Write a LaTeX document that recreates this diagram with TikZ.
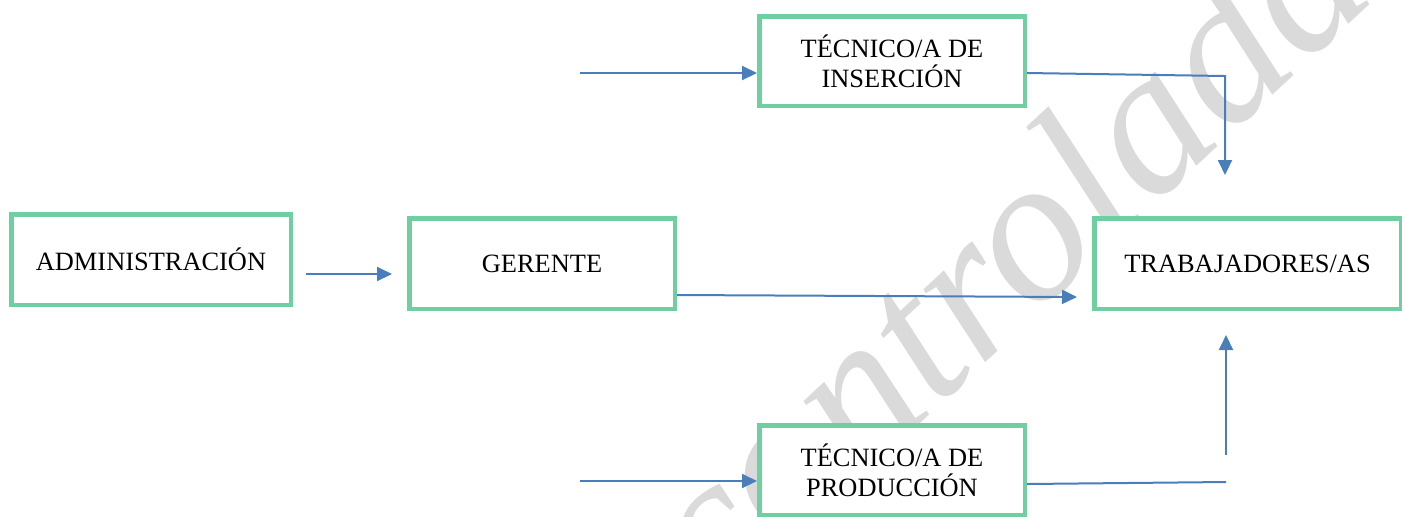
\documentclass[tikz,border=0pt]{standalone}
\usepackage{fontspec}
\setmainfont{Liberation Serif}
\usetikzlibrary{arrows.meta}
\definecolor{boxgreen}{RGB}{112,207,160}
\definecolor{flowblue}{RGB}{74,126,187}
\definecolor{markgray}{RGB}{218,218,218}

\begin{document}
\begin{tikzpicture}[x=0.5pt,y=-0.5pt,>={Triangle[length=7.5pt,width=7pt]},
                    box/.style={draw=boxgreen,line width=2.25pt,fill=white,inner sep=0pt,
                                align=center,font=\fontsize{13.2}{15}\selectfont},
                    flow/.style={draw=flowblue,line width=1pt},
                    wmtext/.style={text=markgray,font=\fontsize{104}{104}\selectfont\itshape}]
    \useasboundingbox (0,0) rectangle (1402,516);
    \node[wmtext,rotate=43,anchor=base west] (wm) at (712,618) {controlada};

    \node[box,minimum width=139.75pt,minimum height=45.25pt] (adm) at (151,259.5) {ADMINISTRACIÓN};
    \node[box,minimum width=132.75pt,minimum height=45.25pt] (ger) at (542,263.5) {GERENTE};
    \node[box,minimum width=132.75pt,minimum height=44.75pt] (ins) at (892,61) {TÉCNICO/A DE\\INSERCIÓN};
    \node[box,minimum width=132.75pt,minimum height=44.75pt] (pro) at (892,470) {TÉCNICO/A DE\\PRODUCCIÓN};
    \node[box,minimum width=153.25pt,minimum height=45.25pt] (tra) at (1247.5,263.5) {TRABAJADORES/AS};

    \coordinate (insin) at (580,73);
    \coordinate (insc) at (1225,76);
    \coordinate (insdown) at (1225,175);
    \coordinate (proin) at (580,481);
    \coordinate (proc) at (1226,482);
    \coordinate (proup) at (1226,455);
    \coordinate (traup) at (1226,335);

    \draw[flow,->] ([xshift=6.5pt,yshift=-7.25pt]adm.east) -- ([xshift=-7.5pt,yshift=-5.25pt]ger.west);
    \draw[flow,->] (insin) -- (insin -| ins.west);
    \draw[flow,->] (ins.east |- insin) -- (insc) -- (insdown);
    \draw[flow,->] ([yshift=-15.75pt]ger.east) -- ([xshift=-7.5pt,yshift=-16.75pt]tra.west);
    \draw[flow,->] (proin) -- (proin -| pro.west);
    \draw[flow] ([yshift=-7pt]pro.east) -- (proc);
    \draw[flow,->] (proup) -- (traup);
\end{tikzpicture}
\end{document}
